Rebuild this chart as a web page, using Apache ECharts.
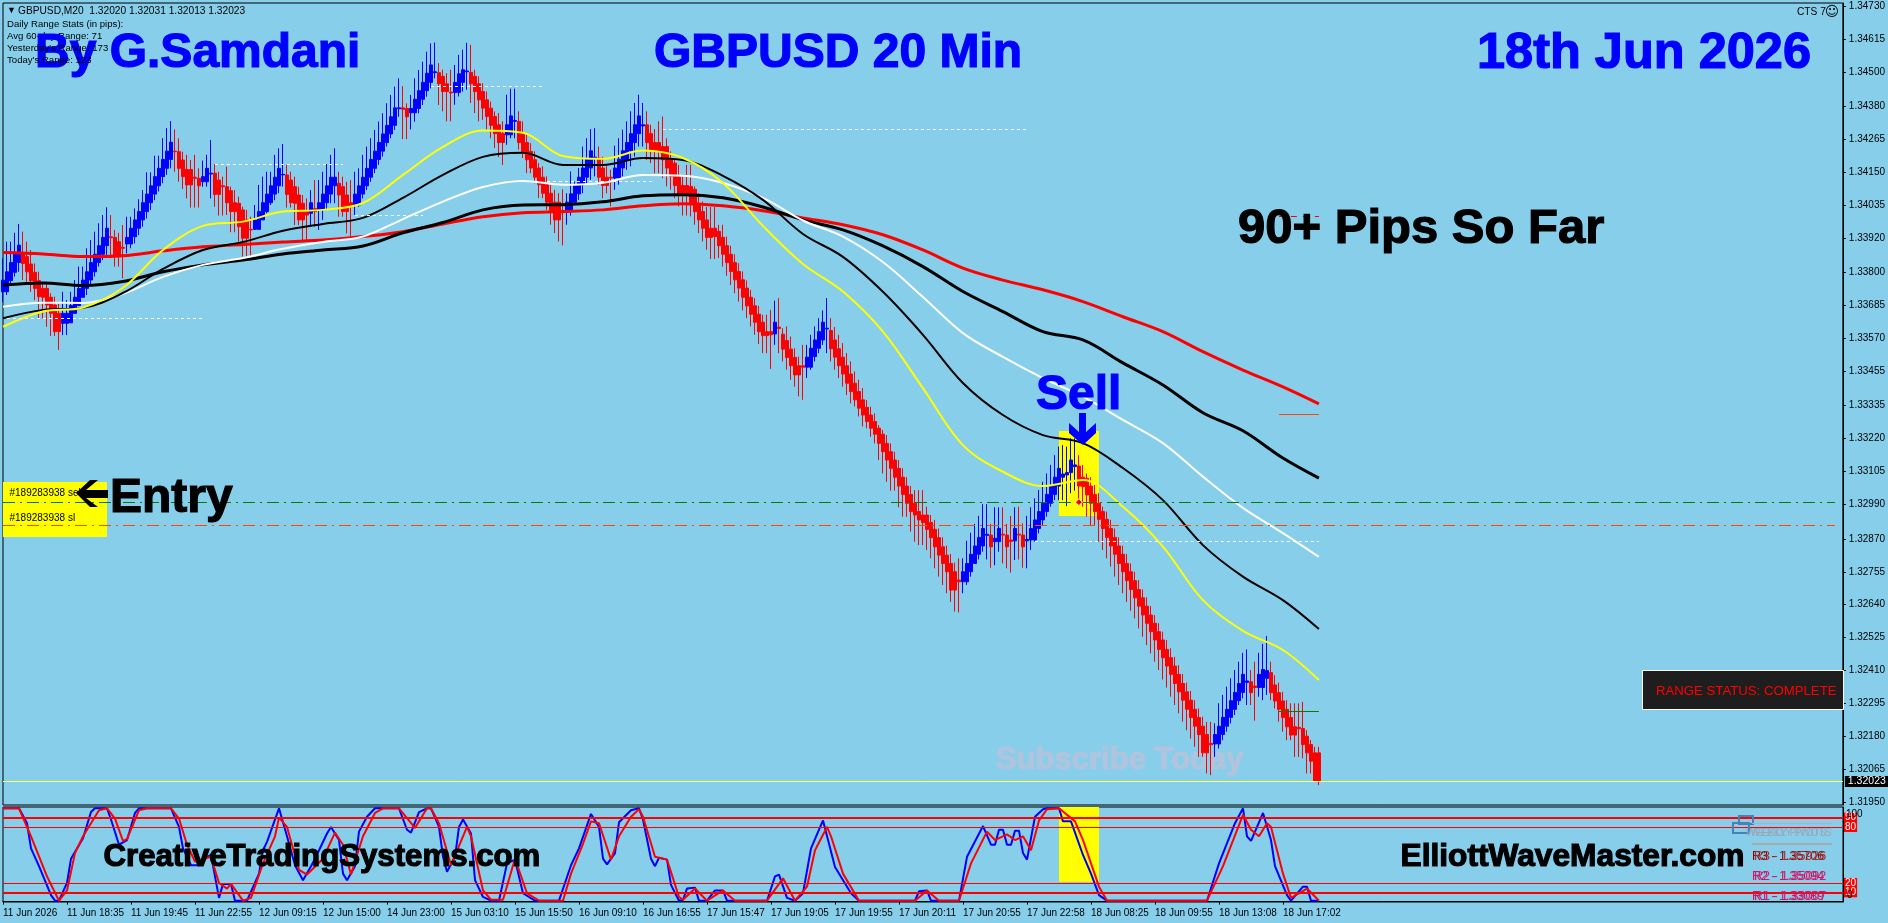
<!DOCTYPE html>
<html>
<head>
<meta charset="utf-8">
<title>GBPUSD 20 Min</title>
<script src="https://cdn.jsdelivr.net/npm/echarts@6/dist/echarts.min.js"></script>
<style>
html,body{margin:0;padding:0;background:#87CEEB;}
#main{width:1888px;height:923px;}
</style>
</head>
<body>
<div id="main"></div>
<script>
// all prices below are points above 1.30000, e.g. 4730 = 1.34730
var tops=[
3773,3802,3834,3864,3895,3866,3855,3829,3800,3771,
3744,3744,3713,3686,3657,3657,3657,3684,3713,3744,
3773,3802,3834,3863,3893,3922,3954,3924,3922,3907,
3887,3922,3954,3983,4012,4043,4073,4102,4134,4163,
4194,4223,4254,4223,4221,4192,4159,4159,4132,4128,
4134,4163,4146,4146,4122,4102,4099,4085,4043,4041,
4018,3983,3950,3983,4012,4043,4073,4102,4132,4163,
4142,4140,4122,4099,4070,4041,4012,4043,4023,4043,
4073,4102,4132,4132,4111,4099,4070,4043,4073,4102,
4132,4163,4194,4223,4253,4283,4313,4343,4374,4374,
4374,4372,4372,4404,4434,4463,4495,4524,4500,4497,
4484,4458,4429,4463,4493,4507,4503,4498,4484,4458,
4431,4402,4373,4344,4315,4284,4315,4346,4330,4327,
4284,4253,4222,4193,4164,4132,4106,4076,4045,4045,
4012,4045,4074,4106,4132,4164,4195,4224,4202,4199,
4164,4132,4132,4164,4195,4224,4253,4284,4315,4346,
4315,4315,4284,4253,4253,4239,4239,4193,4181,4135,
4103,4103,4100,4090,4041,4012,3983,3954,3954,3943,
3922,3893,3863,3834,3803,3774,3745,3713,3683,3654,
3626,3593,3593,3626,3609,3584,3562,3532,3503,3474,
3474,3504,3535,3564,3593,3626,3605,3597,3564,3533,
3504,3474,3445,3413,3384,3355,3329,3302,3279,3256,
3235,3203,3174,3145,3116,3085,3054,3025,2994,2965,
2953,2953,2927,2903,2874,2842,2813,2784,2755,2726,
2755,2784,2816,2845,2875,2906,2886,2883,2872,2906,
2886,2883,2866,2906,2886,2883,2868,2906,2936,2965,
2994,3025,3054,3085,3116,3096,3101,3145,3128,3124,
3085,3081,3054,3025,2994,2965,2938,2906,2875,2845,
2816,2784,2755,2724,2693,2664,2635,2604,2575,2546,
2517,2484,2455,2426,2397,2365,2336,2307,2275,2246,
2216,2187,2156,2187,2216,2247,2275,2305,2334,2365,
2397,2374,2371,2356,2397,2414,2410,2403,2360,2333,
2304,2275,2246,2214,2212,2208,2181,2152,2123,2123];
var bottoms=[
3732,3771,3800,3834,3834,3855,3831,3802,3771,3744,
3715,3713,3686,3657,3593,3622,3624,3657,3684,3713,
3744,3773,3802,3834,3863,3893,3922,3921,3893,3860,
3884,3899,3924,3954,3983,4012,4043,4073,4102,4134,
4163,4194,4194,4221,4194,4163,4134,4105,4128,4102,
4116,4132,4143,4102,4072,4099,4078,4043,4012,4012,
3959,3919,3948,3950,3983,4012,4043,4073,4102,4132,
4140,4102,4072,4043,4041,3983,4000,4006,4012,4018,
4043,4073,4102,4102,4070,4070,4012,4029,4035,4073,
4102,4132,4163,4194,4223,4253,4283,4313,4343,4371,
4369,4343,4357,4372,4404,4434,4463,4495,4497,4462,
4458,4431,4426,4428,4463,4493,4500,4463,4458,4431,
4402,4373,4344,4313,4284,4253,4280,4315,4327,4284,
4253,4222,4193,4164,4132,4106,4076,4045,4012,3983,
4009,4015,4045,4074,4106,4132,4164,4193,4197,4164,
4132,4103,4129,4129,4164,4193,4224,4253,4284,4284,
4311,4284,4253,4224,4222,4222,4193,4164,4135,4103,
4074,4088,4074,4041,4012,3983,3954,3922,3943,3925,
3893,3863,3834,3803,3774,3745,3713,3683,3654,3626,
3593,3579,3582,3585,3604,3562,3532,3503,3474,3442,
3469,3469,3506,3535,3564,3593,3602,3564,3533,3504,
3474,3445,3413,3384,3355,3326,3302,3279,3256,3235,
3203,3174,3145,3116,3085,3054,3025,2994,2965,2953,
2936,2927,2903,2874,2842,2813,2784,2755,2691,2720,
2720,2755,2784,2816,2845,2875,2882,2842,2860,2866,
2883,2842,2861,2863,2883,2842,2863,2866,2906,2936,
2965,2994,3025,3054,3085,3085,3093,3101,3122,3085,
3054,3052,3023,2994,2965,2938,2906,2875,2845,2816,
2784,2755,2724,2693,2664,2635,2604,2575,2546,2517,
2484,2455,2426,2397,2365,2336,2307,2275,2246,2216,
2187,2123,2151,2154,2187,2216,2247,2275,2305,2334,
2365,2369,2333,2351,2351,2383,2394,2365,2333,2304,
2275,2246,2214,2185,2207,2191,2152,2123,2094,2023];
var highs=[
3849,3907,3907,3938,3969,3942,3907,3878,3831,3802,
3767,3767,3727,3715,3692,3732,3703,3732,3773,3820,
3820,3884,3913,3942,3971,4000,4027,4000,3948,3938,
3965,3994,3994,4023,4055,4087,4149,4149,4207,4207,
4268,4303,4328,4299,4268,4221,4210,4192,4210,4163,
4190,4210,4262,4178,4151,4134,4169,4099,4087,4064,
4029,4018,3994,4035,4105,4134,4151,4151,4210,4233,
4248,4175,4151,4134,4099,4070,4058,4087,4122,4122,
4151,4178,4210,4233,4151,4134,4116,4122,4151,4163,
4210,4239,4268,4297,4326,4355,4390,4419,4448,4477,
4450,4390,4419,4477,4506,4535,4570,4599,4602,4530,
4507,4495,4507,4524,4559,4577,4601,4594,4507,4484,
4460,4431,4396,4362,4356,4327,4420,4441,4441,4362,
4327,4286,4251,4222,4181,4170,4135,4106,4088,4076,
4090,4076,4152,4117,4164,4239,4268,4300,4303,4239,
4204,4170,4158,4242,4268,4298,4327,4362,4391,4420,
4391,4362,4315,4300,4327,4344,4268,4222,4193,4175,
4140,4175,4175,4100,4076,4047,4028,4028,4028,3966,
3966,3925,3893,3863,3832,3803,3772,3739,3710,3683,
3652,3652,3669,3701,3710,3605,3611,3576,3535,3506,
3547,3547,3582,3611,3640,3667,3710,3640,3609,3582,
3553,3518,3489,3454,3425,3396,3354,3331,3308,3267,
3250,3232,3203,3174,3145,3116,3085,3054,3040,3040,
3040,2982,2953,2936,2906,2875,2846,2817,2787,2802,
2802,2863,2891,2922,2950,2991,2991,2922,2980,2980,
2980,2922,2950,2980,2982,2924,2950,2980,3011,3040,
3069,3098,3128,3162,3192,3197,3192,3221,3221,3162,
3128,3098,3085,3058,3029,2982,2965,2936,2906,2875,
2846,2817,2784,2755,2726,2693,2666,2635,2604,2575,
2546,2517,2488,2458,2429,2398,2368,2339,2307,2278,
2249,2231,2231,2226,2296,2325,2354,2383,2412,2441,
2472,2484,2412,2441,2472,2503,2531,2441,2394,2368,
2336,2307,2296,2296,2296,2301,2202,2168,2144,2144];
var lows=[
3697,3721,3756,3785,3802,3773,3767,3732,3703,3639,
3639,3610,3578,3578,3529,3581,3581,3628,3663,3692,
3715,3721,3756,3785,3820,3843,3860,3849,3820,3820,
3779,3866,3884,3901,3930,3959,3988,4018,4052,4082,
4111,4140,4163,4151,4116,4091,4058,4026,4026,4026,
4099,4099,4058,4029,3998,3998,4000,3940,3940,3907,
3855,3855,3857,3948,3954,3983,4006,4035,4052,4076,
4099,4026,4026,3965,3965,3907,3913,3959,3959,3948,
3983,4018,4041,4041,3994,3994,3936,3919,4000,4029,
4058,4087,4116,4146,4175,4204,4239,4268,4297,4343,
4265,4265,4299,4326,4355,4384,4413,4442,4477,4384,
4362,4327,4327,4385,4414,4431,4437,4391,4356,4327,
4332,4298,4268,4234,4202,4175,4245,4268,4268,4228,
4199,4146,4146,4111,4059,4059,4018,3966,3937,3908,
3894,3966,3998,4041,4053,4076,4106,4123,4135,4106,
4059,4076,4030,4088,4106,4135,4158,4170,4204,4239,
4239,4193,4181,4146,4146,4129,4100,4088,4059,4030,
3998,3998,3995,3966,3937,3908,3879,3847,3847,3850,
3820,3788,3756,3727,3698,3667,3640,3611,3582,3550,
3518,3518,3463,3547,3518,3489,3460,3425,3401,3367,
3355,3431,3460,3489,3518,3547,3518,3489,3460,3431,
3401,3372,3343,3332,3297,3262,3256,3226,3203,3145,
3098,3069,3038,3038,2980,2947,2947,2895,2860,2848,
2848,2831,2802,2767,2738,2709,2680,2650,2616,2613,
2680,2709,2738,2802,2798,2825,2798,2769,2778,2825,
2784,2767,2752,2796,2798,2769,2767,2831,2860,2889,
2918,2947,2982,3005,3005,3005,2984,3029,3038,2991,
2982,2947,2918,2918,2860,2831,2802,2773,2738,2709,
2680,2650,2619,2592,2557,2528,2499,2470,2441,2412,
2379,2351,2319,2290,2261,2232,2202,2173,2144,2109,
2109,2051,2045,2109,2138,2167,2197,2226,2255,2290,
2313,2290,2290,2235,2319,2307,2325,2307,2278,2232,
2197,2167,2167,2109,2109,2104,2051,2051,2022,2010];
// bars that close up (blue), everything else closes down (red)
var blueRuns=[[0,4],[15,26],[31,42],[50,52],[63,70],[77,77],[79,83],[88,99],[102,108],[113,116],[126,128],
	[141,148],[153,160],[193,193],[201,206],[240,246],[248,249],[253,253],[256,268],[303,311],[314,316]];

// moving averages, read every 10 bars
var maIndex=[0,10,20,30,40,50,60,70,80,90,100,110,120,130,140,150,160,170,180,190,200,210,220,230,240,250,260,270,280,290,300,310,320,329];
var maYellow=[3610,3663,3677,3746,3878,3962,3977,4012,4018,4042,4140,4238,4295,4287,4206,4196,4225,4199,4112,3962,3829,3733,3593,3396,3197,3104,3054,3075,2982,2843,2656,2549,2482,2377];
var maBlackThin=[3640,3669,3676,3728,3812,3878,3906,3945,3969,3990,4060,4140,4203,4217,4175,4175,4199,4192,4137,4053,3934,3854,3732,3582,3414,3302,3232,3204,3117,3005,2848,2738,2656,2555];
var maWhite=[3680,3694,3693,3725,3784,3826,3850,3882,3906,3925,3986,4047,4098,4119,4106,4113,4140,4137,4112,4060,3981,3925,3836,3714,3588,3505,3431,3366,3285,3204,3087,2978,2890,2807];
var maBlackThick=[3756,3763,3754,3768,3802,3826,3843,3864,3878,3892,3938,3974,4018,4035,4036,4046,4067,4071,4060,4028,3983,3948,3892,3820,3733,3663,3593,3564,3484,3407,3310,3247,3152,3082];
var maRed=[3869,3864,3855,3858,3875,3889,3897,3906,3913,3925,3942,3969,3994,4008,4012,4018,4032,4039,4032,4015,3990,3966,3931,3878,3815,3773,3739,3698,3645,3593,3523,3459,3400,3341];

// oscillator turning points, [bar, value]
var stochBlue=[[0,100],[4,100],[6,84],[7,57],[9,38],[12,7],[13,1],[14,1],[16,20],[17,46],[20,68],[22,96],[23,100],[26,100],[27,88],[29,61],[31,66],[33,95],[34,100],[42,100],[44,80],[45,57],[47,39],[49,39],[51,48],[52,50],[54,4],[55,19],[57,19],[58,1],[61,1],[64,30],[65,55],[66,64],[69,100],[71,70],[73,39],[75,23],[77,38],[78,46],[81,73],[82,80],[84,66],[85,30],[86,23],[88,38],[89,75],[91,91],[93,100],[99,100],[101,77],[102,74],[104,96],[106,100],[107,100],[109,80],[110,48],[111,32],[113,48],[114,80],[115,88],[117,73],[118,23],[120,5],[122,1],[124,1],[126,41],[128,45],[129,27],[130,9],[133,1],[139,1],[142,39],[144,57],[147,94],[149,80],[150,46],[151,40],[153,52],[154,85],[157,98],
	[159,100],[160,88],[162,46],[163,38],[164,47],[166,45],[167,18],[169,1],[170,2],[171,14],[173,15],[174,1],[176,1],[178,12],[180,12],[181,1],[191,1],[193,27],[194,29],[196,4],[198,1],[200,9],[202,57],[205,87],[208,37],[212,9],[214,1],[228,1],[229,11],[231,12],[232,1],[239,1],[241,48],[245,81],[247,61],[248,61],[249,77],[250,77],[251,61],[252,61],[253,76],[254,76],[255,52],[256,45],[258,91],[260,99],[261,100],[264,100],[265,86],[267,86],[270,50],[272,30],[274,7],[276,1],[301,1],[304,41],[308,84],[310,100],[311,70],[312,65],[314,85],[315,95],[317,66],[318,38],[321,7],[322,1],[325,16],[326,16],[327,1],[329,1]];
var stochRed=[[0,100],[4,100],[7,70],[11,27],[14,1],[16,12],[18,52],[20,70],[24,98],[26,100],[28,89],[30,65],[31,67],[34,98],[36,100],[42,100],[44,89],[46,61],[48,43],[52,48],[54,20],[56,14],[57,19],[60,1],[62,4],[65,41],[68,70],[69,90],[71,80],[74,34],[76,29],[80,46],[83,74],[85,61],[87,29],[90,70],[93,95],[95,100],[99,100],[103,79],[106,100],[107,100],[109,84],[112,39],[116,80],[117,70],[120,12],[122,2],[125,2],[128,46],[131,9],[134,1],[140,1],[142,30],[145,62],[147,86],[149,84],[152,45],[154,70],[157,91],
	[159,99],[160,91],[163,48],[166,45],[169,5],[170,2],[173,14],[176,1],[180,12],[183,1],[191,1],[195,25],[198,1],[201,16],[203,55],[206,80],[207,70],[210,30],[214,1],[228,1],[231,12],[234,1],[239,1],[242,41],[246,75],[248,66],[251,72],[253,66],[255,70],[257,55],[259,87],[261,99],[264,100],[268,86],[270,66],[274,16],[276,1],[301,1],[305,38],[310,93],[312,77],[314,70],[316,84],[317,80],[320,30],[322,4],[326,14],[329,1]];
var stochLevels=[90,80,20,10];

var timeLabels=['11 Jun 2026','11 Jun 18:35','11 Jun 19:45','11 Jun 22:55','12 Jun 09:15','12 Jun 15:00','14 Jun 23:00','15 Jun 03:10','15 Jun 15:50','16 Jun 09:10','16 Jun 16:55','17 Jun 15:47','17 Jun 19:05','17 Jun 19:55','17 Jun 20:11','17 Jun 20:55','17 Jun 22:58','18 Jun 08:25','18 Jun 09:55','18 Jun 13:08','18 Jun 17:02'];
var priceTicks=[1.34730,1.34615,1.34500,1.34380,1.34265,1.34150,1.34035,1.33920,1.33800,1.33685,1.33570,1.33455,1.33335,1.33220,1.33105,1.32990,1.32870,1.32755,1.32640,1.32525,1.32410,1.32295,1.32180,1.32065,1.31950];

// short dotted pivot levels: [from bar, to bar, points]
var whiteLevels=[[107,135,4448],[53,85,4178],[88,105,4000],[165,256,4301],[136,163,4117],[1,50,3641],[258,329,2862]];
var entryLevel=2998, stopLevel=2919, lastLevel=2023;
var shortRed=3995, shortOrange=3306, shortGreen=2269;

var barsPerLabel=16, slots=461;
var bgColor='#87CEEB', font='Liberation Sans';

function toPrice(v){
	return +(1.3+v/100000).toFixed(5);
}

function isBlue(i){
	for(var k=0;k<blueRuns.length;k++){
		if(i>=blueRuns[k][0]&&i<=blueRuns[k][1]) return true;
	}
	return false;
}

// the arrays hold the visible stair step of each bar; a real body also covers
// the step it shares with its neighbour in the same run, so the band looks twice as wide
var candles=tops.map(function(t,i){
	var blue=isBlue(i), bottom=bottoms[i];
	if(t-bottom>10){
		var n=blue?i-1:i+1;
		if(n>=0&&n<tops.length&&isBlue(n)==blue&&tops[n]-bottoms[n]>10&&bottoms[n]<bottom) bottom=bottoms[n];
	}
	return blue
		?[toPrice(bottom),toPrice(t),toPrice(lows[i]),toPrice(highs[i])]
		:[toPrice(t),toPrice(bottom),toPrice(lows[i]),toPrice(highs[i])];
});

var categories=[];
for(var c=0;c<slots;c++){
	categories.push(c%barsPerLabel==0&&timeLabels[c/barsPerLabel]?timeLabels[c/barsPerLabel]:'');
}

function showTime(i){
	return i%barsPerLabel==0&&i/barsPerLabel<timeLabels.length;
}

function maSeries(values,color,width){
	return {
		type:'line',xAxisIndex:0,yAxisIndex:0,z:4,symbol:'none',silent:true,smooth:0.35,
		data:values.map(function(v,i){return [maIndex[i],toPrice(v)];}),
		lineStyle:{color:color,width:width}
	};
}

function stochSeries(points,color){
	return {
		type:'line',xAxisIndex:1,yAxisIndex:1,z:4,symbol:'none',silent:true,
		data:points,
		lineStyle:{color:color,width:2}
	};
}

function levelLine(from,to,points,color,width,dash){
	return [
		{xAxis:from,yAxis:toPrice(points),lineStyle:{color:color,width:width,type:dash}},
		{xAxis:to,yAxis:toPrice(points)}
	];
}

var priceLines=whiteLevels.map(function(w){
	return levelLine(w[0],w[1],w[2],'#fff',1,[3,3]);
});
priceLines.push(levelLine(319,329,shortRed,'#f00',1,[6,6]));
priceLines.push(levelLine(319,329,shortOrange,'#FF4500',1,'solid'));
priceLines.push(levelLine(319,329,shortGreen,'#008000',1,'solid'));
priceLines.push(levelLine(0,458,entryLevel,'#008000',1,[12,5,2,5]));
priceLines.push(levelLine(0,458,stopLevel,'#FF4500',1,[12,5,2,5]));

function label(text,x,y,size,color,bold,z){
	return {
		type:'text',z:z||50,silent:true,
		style:{x:x,y:y,text:text,fill:color,align:'left',verticalAlign:'middle',
			stroke:bold?color:null,lineWidth:bold?1.2:0,
			font:(bold?'bold ':'')+size+'px "'+font+'"'}
	};
}

var myChart=echarts.init(document.getElementById('main'));
myChart.setOption({
	backgroundColor:bgColor,
	animation:false,
	grid:[
		{left:3,top:3,width:1840,height:802,show:true,borderColor:'#000',borderWidth:1,backgroundColor:'transparent'},
		{left:3,top:807,width:1840,height:95,show:true,borderColor:'#000',borderWidth:1,backgroundColor:'transparent'}
	],
	xAxis:[
		{type:'category',gridIndex:0,data:categories,boundaryGap:false,
			axisLine:{show:false},axisTick:{show:false},axisLabel:{show:false},splitLine:{show:false}},
		{type:'category',gridIndex:1,data:categories,boundaryGap:false,
			axisLine:{lineStyle:{color:'#000'}},
			axisTick:{interval:showTime,length:3,lineStyle:{color:'#000'}},
			axisLabel:{interval:showTime,align:'left',margin:6,color:'#000',fontFamily:font,fontSize:10,hideOverlap:false},
			splitLine:{show:false}}
	],
	yAxis:[
		{type:'value',gridIndex:0,position:'right',min:1.31941,max:1.34740,
			axisLine:{show:true,lineStyle:{color:'#000'}},
			axisTick:{show:true,length:3,customValues:priceTicks,lineStyle:{color:'#000'}},
			axisLabel:{customValues:priceTicks,margin:6,color:'#000',fontFamily:font,fontSize:10,
				formatter:function(v){return v.toFixed(5);}},
			splitLine:{show:false}},
		{type:'value',gridIndex:1,position:'right',min:-0.4,max:101.4,
			axisLine:{show:true,lineStyle:{color:'#000'}},
			axisTick:{show:false},axisLabel:{show:false},
			splitLine:{show:false}}
	],
	series:[
		// yellow blocks and price levels sit behind the bars
		{type:'line',xAxisIndex:0,yAxisIndex:0,z:1,data:[],symbol:'none',silent:true,
			markArea:{silent:true,itemStyle:{color:'#FFFF00'},data:[
				[{xAxis:0,yAxis:toPrice(3068)},{xAxis:26,yAxis:toPrice(2876)}],
				[{xAxis:264,yAxis:toPrice(3246)},{xAxis:274,yAxis:toPrice(2950)}]
			]}},
		{type:'line',xAxisIndex:1,yAxisIndex:1,z:1,data:[],symbol:'none',silent:true,
			markArea:{silent:true,itemStyle:{color:'#FFFF00'},data:[
				[{xAxis:264,yAxis:101.4},{xAxis:274,yAxis:21.4}]
			]}},
		{type:'candlestick',xAxisIndex:0,yAxisIndex:0,z:2,barWidth:3,data:candles,silent:true,
			itemStyle:{color:'#0000FF',color0:'#FF0000',borderColor:'#0000FF',borderColor0:'#FF0000',borderWidth:1},
			markPoint:{silent:true,symbol:'diamond',symbolSize:7,label:{show:false},
				itemStyle:{color:'#f00',borderColor:'#fff',borderWidth:1},
				data:[{coord:[269,toPrice(entryLevel)]}]}},
		maSeries(maRed,'#FF0000',3),
		maSeries(maBlackThick,'#000',3),
		maSeries(maWhite,'#fff',2),
		maSeries(maBlackThin,'#000',2),
		maSeries(maYellow,'#FFFF00',2),
		{type:'line',xAxisIndex:0,yAxisIndex:0,z:3,data:[],symbol:'none',silent:true,
			markLine:{silent:true,symbol:'none',animation:false,label:{show:false},data:priceLines}},
		{type:'line',xAxisIndex:0,yAxisIndex:0,z:3,data:[],symbol:'none',silent:true,
			markLine:{silent:true,symbol:'none',animation:false,precision:5,
				label:{show:true,position:'end',distance:2,color:'#fff',backgroundColor:'#000',fontFamily:font,fontSize:10.5,padding:[0,3],
					formatter:function(p){return (+p.value).toFixed(5);}},
				lineStyle:{color:'#FFFF66',width:1,type:'solid'},
				data:[{yAxis:toPrice(lastLevel)}]}},
		stochSeries(stochBlue,'#0000FF'),
		stochSeries(stochRed,'#FF0000'),
		{type:'line',xAxisIndex:1,yAxisIndex:1,z:5,data:[],symbol:'none',silent:true,
			markLine:{silent:true,symbol:'none',animation:false,precision:0,
				label:{show:true,position:'end',distance:1,color:'#fff',backgroundColor:'#f00',fontFamily:font,fontSize:10,padding:[0,1]},
				data:[
					{yAxis:stochLevels[0],lineStyle:{color:'#f00',width:2,type:'solid'}},
					{yAxis:stochLevels[1],lineStyle:{color:'#f00',width:1,type:'solid'}},
					{yAxis:stochLevels[2],lineStyle:{color:'#f00',width:1,type:'solid'}},
					{yAxis:stochLevels[3],lineStyle:{color:'#f00',width:2,type:'solid'}}
				]}}
	],
	graphic:[
		label('▼',7,11,9,'#000',false),
		label('GBPUSD,M20  1.32020 1.32031 1.32013 1.32023',18,11,10.2,'#000',false),
		label('Daily Range Stats (in pips):',7,24,9.6,'#000',false),
		label('Avg 60-day Range: 71',7,36,9.6,'#000',false),
		label('By G.Samdani',35,54,48,'#0000FF',true),
		label('Yesterday\'s Range: 173',7,48,9.6,'#000',false),
		label('Today\'s Range: 123',7,60,9.6,'#000',false),
		label('GBPUSD 20 Min',654,54,48,'#0000FF',true),
		label('18th Jun 2026',1477,54,50.5,'#0000FF',true),
		label('90+ Pips So Far',1238,229,49,'#000',true),
		label('CTS 7',1797,12,10.2,'#000',false),
		{type:'text',z:50,silent:true,style:{x:1832,y:12.5,text:'☺',fill:'#000',align:'center',verticalAlign:'middle',font:'14px "DejaVu Sans"'}},
		label('Sell',1036,396,48,'#0000FF',true),
		{type:'polygon',z:50,silent:true,style:{fill:'#0000FF'},shape:{points:[[1079,413],[1086,413],[1086,432],[1096,423],[1096,433],[1083,445],[1069,433],[1069,423],[1079,432]]}},
		label('#189283938 sell',9.5,493,10,'#000',false),
		label('#189283938 sl',9.5,518,10,'#000',false),
		{type:'polygon',z:50,silent:true,style:{fill:'#000'},shape:{points:[[76,493],[90,480],[98,480],[86,490],[108,490],[108,498],[86,498],[98,507],[90,507]]}},
		label('Entry',110,499,48,'#000',true),
		label('Subscribe Today',996,760,31,'#B0C4DE',true,1),
		label('CreativeTradingSystems.com',103.5,857.5,31.2,'#000',true),
		label('ElliottWaveMaster.com',1400.5,857.5,31.7,'#000',true),
		{type:'rect',z:40,silent:true,shape:{x:1642.5,y:670.5,width:201,height:39},style:{fill:'#1E1E1E',stroke:'#fff',lineWidth:1}},
		label('RANGE STATUS: COMPLETE',1656,691,13.2,'#FF0000',false),
		// pivot block, printed twice on top of itself in the original
		{type:'rect',z:40,silent:true,shape:{x:1739,y:816,width:14,height:8},style:{fill:'none',stroke:'#4682B4',lineWidth:2}},
		{type:'rect',z:40,silent:true,shape:{x:1733,y:823,width:16,height:10},style:{fill:'none',stroke:'#4682B4',lineWidth:2}},
		{type:'line',z:40,silent:true,shape:{x1:1752,y1:823.5,x2:1832,y2:823.5},style:{stroke:'#A9B4C0',lineWidth:1}},
		{type:'line',z:40,silent:true,shape:{x1:1752,y1:844,x2:1832,y2:844},style:{stroke:'#A9A9A9',lineWidth:2}},
		label('WEEKLY PIVOTS',1746,833.5,10,'#9AA7B8',false),
		label('WEEKLY PIVOTS',1751,833.5,10,'#9AA7B8',false),
		label('R3 - 1.35706',1752,856.5,12.5,'#8B0000',false),
		label('R3 - 1.35926',1754,856.5,12.5,'#A52A2A',false),
		label('R2 - 1.35094',1752,876.5,12.5,'#DC143C',false),
		label('R2 - 1.35092',1754,876.5,12.5,'#C71585',false),
		label('R1 - 1.33089',1752,896.5,12.5,'#DC143C',false),
		label('R1 - 1.33007',1754,896.5,12.5,'#C71585',false),
		label('100',1846,814,10,'#000',false),
		label('0',1847,895.5,10,'#000',false)
	]
});
window.addEventListener("resize",function(){
	myChart.resize();
});
</script>
</body>
</html>
